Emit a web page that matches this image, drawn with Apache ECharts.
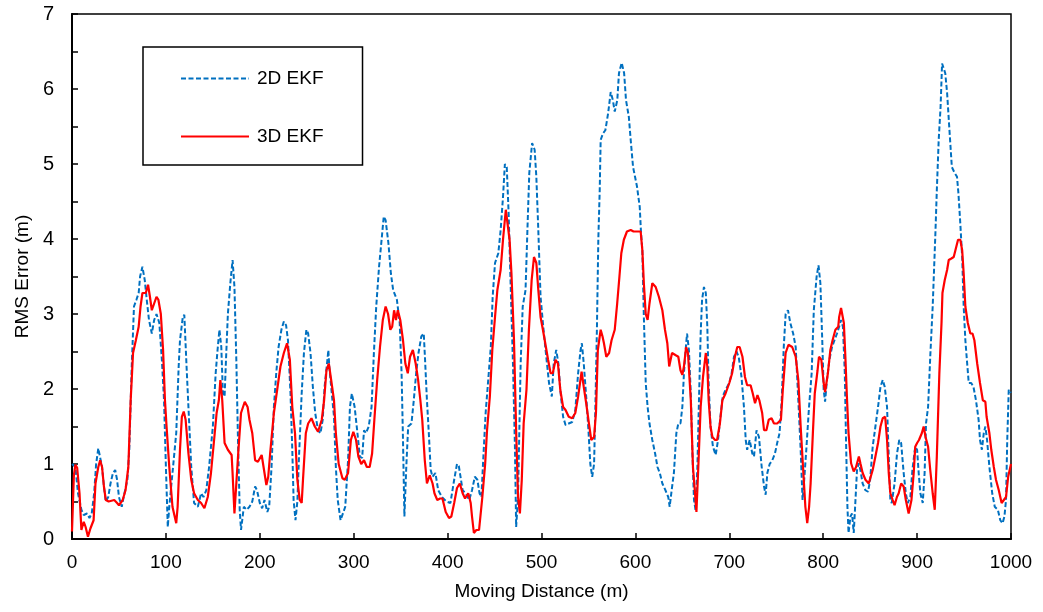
<!DOCTYPE html>
<html><head><meta charset="utf-8">
<script src="https://cdn.jsdelivr.net/npm/echarts@6/dist/echarts.min.js"></script>
<style>html,body{margin:0;padding:0;background:#fff}#c{width:1043px;height:612px}</style>
</head><body><div id="c"></div>
<script>
const seriesNames = ['2D EKF', '3D EKF'];
const xTicks = [0,100,200,300,400,500,600,700,800,900,1000];
const yTicks = [0,1,2,3,4,5,6,7];

const d2D = [0,3.6,6.4,10,12.5,16,18.6,21,23.6,25.7,28,30,32,34,36,38.6,41,43.6,46,48,50,53,55,59,61,63.6,66,68.6,71,72.5,75,77.5,79.6,82,85,87.5,90,93,95.7,98,100,102,103.6,107,111,113.6,115,118,119.6,122,124,127,130,134,137.5,140,143,146,150,153,155,157,159,160.7,162.5,164,166,168.6,171,173,175,177,178.6,180,183,186,189,192,195,197,200,202.5,205,208,210,212.5,215,217.5,220,223,225.6,228,230,232.7,234.6,236,238,240,241.6,244.6,247,249.6,251.5,254,256.5,259,262,264.6,267,269,272,273,274,276,279,281,283,286,288,291,294,296,298,301,304,306.5,309,311,313,316,319,321.5,324,327,330,332,334,337,339.6,342,344,346,349,351,352.5,354,356,358,361.5,364,366.5,369,372,374.6,376,378,380,382,384,387,390,394,398.7,403,407,410,412,416,419,423,426,429,431.7,434,436,437.7,440.5,443,446,448,450.5,454,456.5,459,461,463,465,467,469.6,471.7,473,475,477.8,480,483,485,487,490,492.7,494.5,496.6,499,501.5,504,508,511,513,515.7,518,520,523,525.6,529,532.7,536,539,541.6,543,545,547.6,550,552,554,556,557.6,559,560.5,562,563,565.5,568,571,573.7,576,578,580.7,582.5,585.4,588,590,593,595,597.5,599.6,601.7,604.6,606,607.4,609,611,613,615,618,621,623.5,626,628.7,632,635,636.5,638.6,641,643.6,645.7,648,650,651.7,653.5,655,657,659,660.6,662.4,664,666,667.7,669.5,671,673,675,676.6,678,680,682.6,685.5,688,691,693,696,700,702.5,705,707.6,710,713,715.6,717.5,719,721.7,724.5,726.3,729,731.6,734.5,737,738.7,740.5,743,745.8,748.6,751,753.5,755.8,758,760,762.5,765,768,770.7,773.5,776,778,779.5,782,784.9,787.7,790,793,795,797,799,800.5,802,804,806.6,809.4,812,814.7,817,819,821,823,824.3,825.8,827,829,830.7,832.5,834,836,838,839.6,842,845,847.8,850,852.7,855.6,858.4,861,863.4,865.5,868,869.8,871.5,873,876,878.6,881,883,885.7,888,890,892.8,895,898,900,901.7,903.5,906,908,909.5,911.7,914,916.6,919.5,921,923,925,926.6,928,930,932,934,937,940,942.5,944,946,948,949.6,951.4,953,955,957.6,960,962.7,965.5,967,969,971,972.7,974.5,977,980,982.7,986,988.6,991,993,994.7,996,997.6,1000];
const v2D = [1.0,0.96,0.61,0.39,0.32,0.34,0.28,0.34,0.61,1.0,1.21,1.23,0.96,0.7,0.5,0.56,0.74,0.88,0.92,0.79,0.56,0.43,0.56,0.79,1.19,2.3,3.1,3.19,3.28,3.5,3.63,3.45,3.19,2.92,2.74,2.92,3.0,2.88,2.39,1.85,0.96,0.16,0.43,0.88,1.41,2.3,2.65,2.96,2.99,2.3,1.76,0.96,0.48,0.43,0.61,0.56,0.65,0.96,1.5,2.21,2.52,2.79,2.56,1.94,1.9,2.39,3.0,3.41,3.72,3.36,2.39,1.19,0.39,0.12,0.43,0.39,0.43,0.5,0.7,0.65,0.48,0.41,0.52,0.36,0.43,0.96,1.76,2.21,2.56,2.79,2.9,2.85,2.65,1.94,1.19,0.52,0.25,0.5,1.05,1.94,2.48,2.79,2.74,2.48,2.03,1.68,1.45,1.41,1.59,2.03,2.39,2.52,2.3,2.03,1.63,0.96,0.52,0.25,0.23,0.43,1.05,1.76,1.94,1.76,1.41,1.1,1.08,1.45,1.41,1.5,1.76,2.48,3.1,3.63,4.03,4.3,4.25,3.94,3.54,3.32,3.32,3.19,2.88,2.21,1.32,0.3,0.96,1.5,1.54,1.85,2.21,2.48,2.7,2.74,2.39,1.85,1.41,0.92,0.83,0.88,0.65,0.56,0.5,0.48,0.79,1.0,0.97,0.65,0.61,0.52,0.65,0.83,0.79,0.61,0.56,1.0,1.68,2.08,2.56,3.23,3.68,3.81,4.12,4.56,5.0,4.96,4.34,3.45,2.34,1.23,0.16,0.56,2.34,3.1,3.32,4.12,4.88,5.28,5.19,4.83,4.12,3.23,2.88,2.56,2.08,1.9,2.34,2.52,2.34,1.99,1.63,1.52,1.54,1.56,1.72,2.21,2.52,2.61,2.34,1.9,1.45,1.0,0.83,1.0,1.9,2.79,3.99,4.65,5.32,5.41,5.45,5.68,5.96,5.85,5.7,5.85,6.21,6.35,6.21,5.85,5.63,5.32,4.96,4.83,4.7,4.43,4.08,3.85,2.96,2.08,1.76,1.54,1.32,1.14,0.96,0.88,0.74,0.65,0.56,0.43,0.65,0.88,1.41,1.54,1.54,1.76,2.21,2.52,2.74,2.52,1.94,1.19,0.52,0.39,0.96,1.85,2.74,3.19,3.36,3.28,2.83,2.08,1.5,1.23,1.12,1.32,1.68,1.9,1.99,2.08,2.21,2.43,2.5,2.43,2.16,1.76,1.32,1.19,1.32,1.14,1.1,1.45,1.36,0.96,0.7,0.59,0.88,1.0,1.05,1.14,1.28,1.41,1.85,2.56,3.0,3.05,2.88,2.74,2.56,1.85,1.19,0.52,0.74,1.19,1.76,2.21,3.05,3.5,3.65,3.41,2.65,1.99,1.83,2.12,2.39,2.56,2.65,2.74,2.83,2.92,2.83,2.21,1.32,0.43,0.08,0.3,0.34,0.08,0.43,0.92,1.01,0.92,0.74,0.65,0.63,0.79,1.23,1.5,1.76,2.03,2.12,2.03,1.76,1.1,0.52,0.48,0.74,1.14,1.32,1.28,0.88,0.61,0.48,0.56,0.92,1.23,1.19,0.88,0.61,0.48,0.88,1.54,1.76,2.43,3.1,4.08,4.65,5.32,5.76,6.34,6.36,6.21,5.94,5.54,4.96,4.88,4.83,4.61,4.21,3.76,3.1,2.65,2.39,2.08,2.08,2.03,1.85,1.59,1.32,1.19,1.41,1.5,1.32,0.96,0.61,0.43,0.39,0.25,0.21,0.3,0.52,1.32,1.99,1.95];

const d3D = [0,2,3.6,5.5,8,10,12.5,14.5,17,19.6,23,25,28,30,32,34,36,39,45,48,50,54,57,60,62.5,65,68,71,73,75,78.6,81,83,85,87.5,90,92,94.6,97,99,100.7,103.6,107,111,112.5,115,117,119,121,124,127,130,134,137.5,141,144.6,148,152,154,156.4,158,160,162.5,166,170,171,173,174.5,177,180,184,187,189,192,195,198,202,204,207,209,211,215,218.5,222,225.6,229,232,234.6,237.5,240,242.5,244.6,246,249,251.5,255,258.6,262,266,268.5,271,273.5,276,279,281,284,288,290.5,294,297,299.6,302.5,305,308,311,314,317,319.6,322,325,328,331,334,336.6,339,341,343,345,347,349.6,352.5,355,357.6,360,363,366,368.6,371,373,375.7,378,381,384,386,389,392,394.5,398,401.5,404,407,410,413,416,418.6,422,424.6,426,428,430.6,433.5,435,437,440,442,445,447.6,450.5,453,456.5,459,462,463.6,466,468,470.7,473,475,477,479,481,484,486.6,489.5,492,494.5,496.6,499,501.5,504,507,509.7,512,515,517.5,520,523,525.6,529,532.7,536,539,542.7,545,547.6,550.5,553,556,558,560,563,565,566.5,569,572,574.6,578,580.6,583,585,587.7,591,595,598,603,605.6,607.4,609,611,613,615,618,621.6,625,628.7,631.5,634,636,639,643,645.7,648,650,651.7,654,656,659,661.3,663.5,665,667,669.5,672,675,676.6,678,680,682,684.8,687,690,692.6,696,700,703,706,708.5,711,714,716.7,719,722.7,725,727.4,730,732,735,737,739.5,742,745,747.6,751,755,757,760,763,767,770.7,773.5,776,778.5,781,783,785,786.6,789,791,794,795.5,798,800.5,802,805,807.6,810,813,816,817,819,822,823.6,825.4,827,829.7,832.5,835,838,839.6,842,845,848.5,850.6,852.7,855.6,858.4,861,863.4,866,868,869.8,871.5,874,876,878.5,880.4,883,885.7,888,891,894,896.4,898,900,902,905,907,909,911.7,914,916.6,918.8,921,923.7,926,927,929.4,932,933.7,936.5,939,940.8,943.6,946,948,949.6,951.4,954,956.7,959,961,964,967,970,972.7,974,977,979,981.7,984,987,990,992,994.7,997,1000];
const v3D = [0.1,0.85,0.99,0.95,0.61,0.12,0.23,0.16,0.03,0.14,0.25,0.74,0.96,1.05,0.96,0.7,0.52,0.5,0.52,0.48,0.45,0.52,0.65,0.96,1.85,2.48,2.65,2.83,3.1,3.28,3.28,3.39,3.23,3.05,3.14,3.23,3.19,3.0,2.52,1.85,1.5,0.96,0.43,0.21,0.43,1.19,1.63,1.7,1.59,1.14,0.79,0.61,0.52,0.48,0.41,0.56,0.88,1.41,1.68,1.85,2.12,1.85,1.28,1.19,1.12,0.88,0.34,0.36,1.14,1.68,1.83,1.76,1.59,1.41,1.05,1.03,1.12,0.96,0.72,0.83,1.14,1.68,1.99,2.3,2.48,2.61,2.39,1.76,1.41,0.79,0.52,0.48,0.79,1.41,1.54,1.61,1.5,1.43,1.59,1.85,2.25,2.34,2.12,1.85,1.41,1.0,0.81,0.79,0.88,1.32,1.43,1.32,1.1,1.0,1.05,0.96,0.96,1.14,1.59,2.12,2.56,2.92,3.1,3.0,2.79,2.83,3.05,2.92,3.05,2.92,2.65,2.34,2.21,2.43,2.52,2.34,2.12,1.85,1.59,1.05,0.74,0.85,0.74,0.61,0.52,0.54,0.54,0.36,0.28,0.3,0.48,0.68,0.74,0.61,0.54,0.61,0.48,0.3,0.08,0.12,0.12,0.1,0.56,1.0,1.45,1.9,2.52,2.96,3.32,3.59,3.99,4.39,4.39,3.99,3.54,2.65,1.45,0.56,0.34,0.79,1.54,1.99,2.79,3.45,3.76,3.68,3.32,2.96,2.79,2.61,2.39,2.21,2.21,2.39,2.34,1.99,1.76,1.72,1.63,1.61,1.68,1.9,2.23,2.03,1.81,1.54,1.32,1.36,1.68,2.52,2.79,2.7,2.61,2.43,2.48,2.65,2.79,3.14,3.5,3.81,3.99,4.1,4.12,4.1,4.1,4.1,3.85,3.41,3.0,2.92,3.14,3.41,3.36,3.23,3.05,2.79,2.61,2.3,2.48,2.45,2.43,2.25,2.19,2.3,2.56,2.48,1.85,0.96,0.61,0.36,0.96,1.76,2.16,2.48,2.3,1.85,1.5,1.36,1.32,1.32,1.54,1.85,1.94,2.08,2.21,2.43,2.56,2.56,2.43,2.16,2.05,2.05,1.94,1.81,1.92,1.85,1.68,1.45,1.45,1.59,1.61,1.54,1.54,1.59,1.99,2.48,2.59,2.56,2.43,2.12,1.5,0.96,0.43,0.21,0.43,0.74,1.41,1.94,2.25,2.43,2.39,2.08,1.96,2.21,2.52,2.65,2.79,2.83,2.96,3.08,2.88,2.43,1.85,1.41,1.01,0.9,0.96,1.1,1.01,0.88,0.79,0.74,0.74,0.92,1.1,1.28,1.5,1.61,1.63,1.32,0.88,0.61,0.52,0.45,0.56,0.61,0.74,0.7,0.52,0.34,0.52,0.88,1.23,1.28,1.32,1.41,1.5,1.36,1.23,0.92,0.61,0.39,1.1,2.21,2.88,3.28,3.45,3.59,3.72,3.74,3.76,3.85,3.99,3.99,3.85,3.54,3.1,2.88,2.74,2.74,2.65,2.34,2.08,1.85,1.83,1.63,1.41,1.19,0.96,0.79,0.65,0.48,0.5,0.56,0.83,1.0];

const zip = (xs, ys) => xs.map((x, i) => [x, ys[i]]);
const font = 'Liberation Sans, Arial, sans-serif';

const chart = echarts.init(document.getElementById('c'), null, {renderer: 'canvas'});
chart.setOption({
  animation: false,
  backgroundColor: '#fff',
  grid: {left: 72, right: 32, top: 14, bottom: 73, show: true, borderColor: '#000', borderWidth: 1.5, backgroundColor: 'transparent'},
  legend: {
    orient: 'vertical', left: 143, top: 47,
    data: seriesNames,
    itemWidth: 68, itemHeight: 14, itemGap: 39,
    padding: [22, 39, 19, 37],
    borderColor: '#000', borderWidth: 1.5,
    itemStyle: {opacity: 0},
    textStyle: {fontSize: 19, color: '#000', fontFamily: font, padding: [0, 0, 0, 3]}
  },
  xAxis: {
    type: 'value', min: xTicks[0], max: xTicks[xTicks.length - 1], interval: 100,
    name: 'Moving Distance (m)', nameLocation: 'middle', nameGap: 43,
    nameTextStyle: {fontSize: 19, color: '#000', fontFamily: font},
    axisLine: {show: true, onZero: false, lineStyle: {color: '#000', width: 2}},
    axisTick: {show: true, inside: true, length: 6, lineStyle: {color: '#000', width: 1.5}},
    axisLabel: {fontSize: 19, color: '#000', fontFamily: font, margin: 14, formatter: v => String(v)},
    splitLine: {show: false}
  },
  yAxis: {
    type: 'value', min: yTicks[0], max: yTicks[yTicks.length - 1], interval: 1,
    name: 'RMS Error (m)', nameLocation: 'middle', nameGap: 38,
    nameTextStyle: {fontSize: 19, color: '#000', fontFamily: font},
    axisLine: {show: true, onZero: false, lineStyle: {color: '#000', width: 2}},
    axisTick: {show: true, inside: true, length: 6, lineStyle: {color: '#000', width: 1.5}},
    minorTick: {show: true, splitNumber: 2, length: 6, lineStyle: {color: '#000', width: 1.5}},
    axisLabel: {fontSize: 20, color: '#000', fontFamily: font, margin: 18},
    splitLine: {show: false}
  },
  series: [
    {name: seriesNames[0], type: 'line', data: zip(d2D, v2D), symbol: 'none', showSymbol: false,
     lineStyle: {color: '#0070C0', width: 2, type: [5, 2.5]}, itemStyle: {color: '#0070C0'}},
    {name: seriesNames[1], type: 'line', data: zip(d3D, v3D), symbol: 'none', showSymbol: false,
     lineStyle: {color: '#FF0000', width: 2.2}, itemStyle: {color: '#FF0000'}}
  ]
});
</script></body></html>
